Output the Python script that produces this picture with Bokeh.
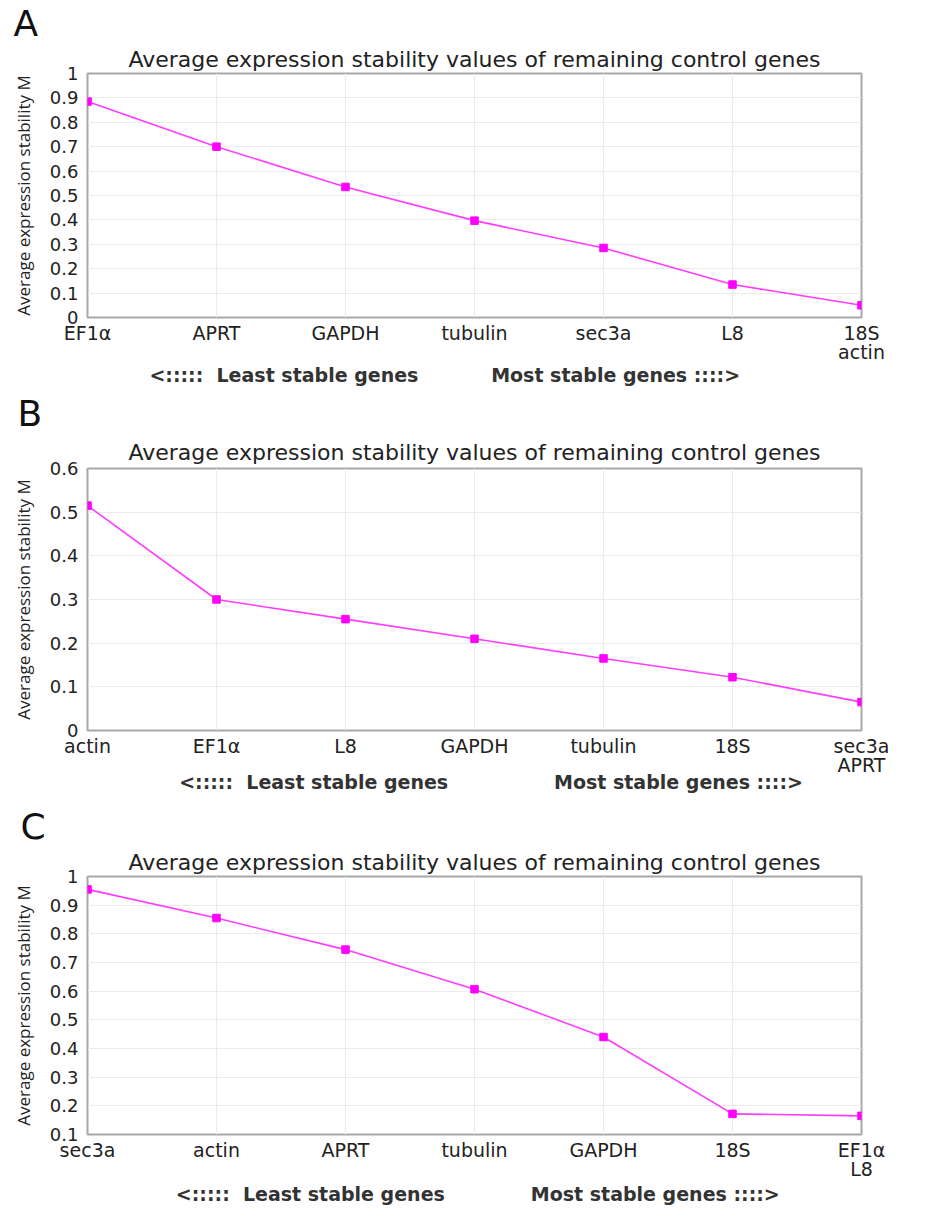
from bokeh.plotting import figure
from bokeh.layouts import column
from bokeh.models import Range1d, FixedTicker, Title
from bokeh.embed import file_html
from bokeh.resources import INLINE

# ---------------- data ----------------
genes_a = ["EF1α", "APRT", "GAPDH", "tubulin", "sec3a", "L8", "18S\nactin"]
m_a = [0.885, 0.70, 0.535, 0.397, 0.285, 0.135, 0.05]

genes_b = ["actin", "EF1α", "L8", "GAPDH", "tubulin", "18S", "sec3a\nAPRT"]
m_b = [0.515, 0.30, 0.255, 0.21, 0.165, 0.122, 0.065]

genes_c = ["sec3a", "actin", "APRT", "tubulin", "GAPDH", "18S", "EF1α\nL8"]
m_c = [0.955, 0.855, 0.745, 0.607, 0.44, 0.172, 0.165]

yticks_a = [0, 0.1, 0.2, 0.3, 0.4, 0.5, 0.6, 0.7, 0.8, 0.9, 1]
ylabels_a = ["0", "0.1", "0.2", "0.3", "0.4", "0.5", "0.6", "0.7", "0.8", "0.9", "1"]
yticks_b = [0, 0.1, 0.2, 0.3, 0.4, 0.5, 0.6]
ylabels_b = ["0", "0.1", "0.2", "0.3", "0.4", "0.5", "0.6"]
yticks_c = [0.1, 0.2, 0.3, 0.4, 0.5, 0.6, 0.7, 0.8, 0.9, 1]
ylabels_c = ["0.1", "0.2", "0.3", "0.4", "0.5", "0.6", "0.7", "0.8", "0.9", "1"]

TITLE = "Average expression stability values of remaining control genes"
YLABEL = "Average expression stability M"
LEAST = "<:::::\u00a0\u00a0Least stable genes"
MOST = "Most stable genes ::::>"

LINE_COLOR = "#ff3cff"
MARK_COLOR = "#ff00ff"
NBSP = "\u00a0"


def make_panel(letter, genes, vals, yticks, ylabels, ymin, ymax,
               height, b_top, b_bottom, b_left, b_right,
               letter_off, title_off, title_stand,
               foot_lead, foot_gap, foot_pad, foot_stand):
    idx = list(range(len(genes)))
    p = figure(width=916, height=height,
               x_range=Range1d(0, len(genes) - 1), y_range=Range1d(ymin, ymax),
               output_backend="svg", toolbar_location=None, title=None,
               min_border_top=b_top, min_border_bottom=b_bottom,
               min_border_left=b_left, min_border_right=b_right)
    p.background_fill_color = "white"
    p.border_fill_color = "white"
    p.outline_line_color = "#a8a8a8"
    p.outline_line_width = 2

    p.line(idx, vals, line_color=LINE_COLOR, line_width=1.6)
    p.scatter(idx, vals, marker="square", size=7.5,
              fill_color=MARK_COLOR, line_color=MARK_COLOR)

    p.xaxis.ticker = FixedTicker(ticks=idx)
    p.xaxis.major_label_overrides = {i: g for i, g in zip(idx, genes)}
    p.yaxis.ticker = FixedTicker(ticks=yticks)
    p.yaxis.major_label_overrides = {t: l for t, l in zip(yticks, ylabels)}

    for ax in (p.xaxis[0], p.yaxis[0]):
        ax.axis_line_color = None
        ax.major_tick_line_color = None
        ax.minor_tick_line_color = None
        ax.major_tick_out = 0
        ax.major_tick_in = 0
        ax.minor_tick_out = 0
        ax.minor_tick_in = 0
        ax.major_label_text_font = "DejaVu Sans"
        ax.major_label_text_color = "#222222"
    p.xaxis.major_label_text_font_size = "19px"
    p.xaxis.major_label_text_line_height = 0.9
    p.yaxis.major_label_text_font_size = "18px"
    p.xaxis.major_label_standoff = 4
    p.yaxis.major_label_standoff = 9

    p.yaxis.axis_label = YLABEL
    p.yaxis.axis_label_text_font = "Open Sans"
    p.yaxis.axis_label_text_font_style = "normal"
    p.yaxis.axis_label_text_font_size = "17px"
    p.yaxis.axis_label_text_color = "#222222"
    p.yaxis.axis_label_standoff = 12

    # footer line below the category labels
    p.xaxis.axis_label = NBSP * foot_lead + LEAST + NBSP * foot_gap + MOST + NBSP * foot_pad
    p.xaxis.axis_label_text_font = "DejaVu Sans"
    p.xaxis.axis_label_text_font_style = "bold"
    p.xaxis.axis_label_text_font_size = "19px"
    p.xaxis.axis_label_text_color = "#333333"
    p.xaxis.axis_label_standoff = foot_stand

    p.grid.grid_line_color = "#ebebeb"
    p.grid.grid_line_width = 1

    # chart title (closest to the frame), then the panel letter above it
    p.add_layout(Title(text=TITLE, align="center", offset=title_off, standoff=title_stand,
                       text_font="DejaVu Sans", text_font_size="22px",
                       text_font_style="normal", text_color="#222222"), "above")
    p.add_layout(Title(text=letter, align="left", offset=letter_off, standoff=0,
                       text_font="DejaVu Sans", text_font_size="36px",
                       text_font_style="normal", text_color="#111111"), "above")
    return p


pa = make_panel("A", genes_a, m_a, yticks_a, ylabels_a, 0, 1,
                389, 70, 72, 84, 55,
                -74, -5, 3, 0, 11, 9, -2)
pb = make_panel("B", genes_b, m_b, yticks_b, ylabels_b, 0, 0.6,
                407, 79, 66, 85, 23,
                -70, -3, 8, 5, 16, 0, -8)
pc = make_panel("C", genes_c, m_c, yticks_c, ylabels_c, 0.1, 1,
                412, 80, 74, 87, 31,
                -67, -10, 3, 1, 13, 0, 0)

layout = column(pa, pb, pc, spacing=0)
open("out.html", "w").write(file_html(layout, INLINE))
